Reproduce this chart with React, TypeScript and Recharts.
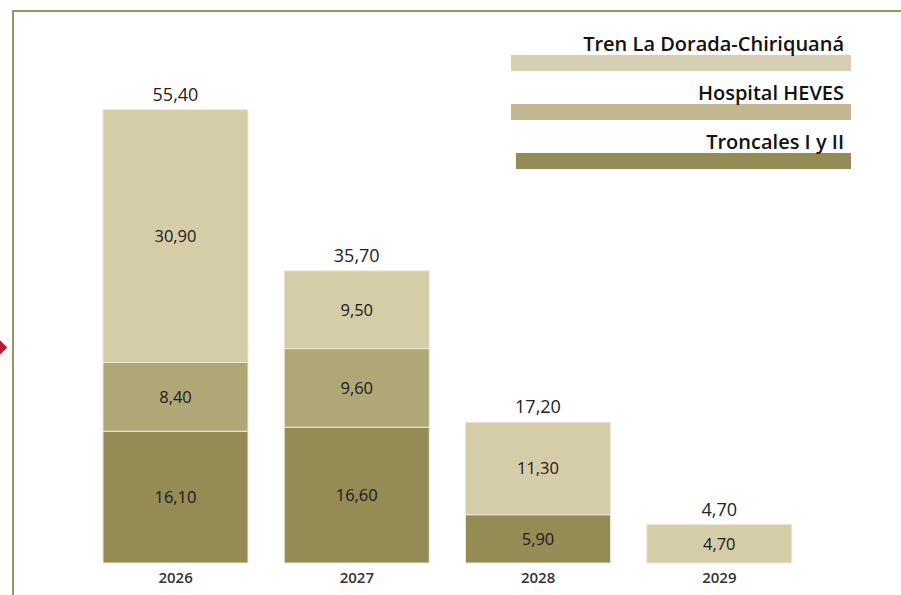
import React from "react";
import { BarChart, Bar, XAxis, YAxis, LabelList, Legend } from "recharts";

const years = ["2026", "2027", "2028", "2029"];
const troncales = [16.1, 16.6, 5.9, 0];
const hospital = [8.4, 9.6, 0, 0];
const tren = [30.9, 9.5, 11.3, 4.7];

const legendOrder = ["tren", "hospital", "troncales"];

const seriesColors = {
  tren: "#d4cda8",
  hospital: "#afa776",
  troncales: "#948b55",
};
const legendColors: Record<string, string> = {
  tren: "#d6cfb3",
  hospital: "#c0b78f",
  troncales: "#948b55",
};

const data = years.map((year, i) => ({
  year,
  troncales: troncales[i],
  hospital: hospital[i],
  tren: tren[i],
  total: troncales[i] + hospital[i] + tren[i],
}));

const fmt = (v: any) => {
  const n = Number(v);
  if (!n) return "";
  return n.toFixed(2).replace(".", ",");
};

const FONT = "'Open Sans', 'Noto Sans', sans-serif";

const LegendBox = ({ payload }: any) => {
  const items = legendOrder
    .map((k) => (payload || []).find((p: any) => p.dataKey === k))
    .filter(Boolean);
  return (
    <div style={{ width: 340, fontFamily: FONT }}>
      {items.map((item: any, i: number) => (
        <div key={item.dataKey} style={{ marginBottom: 11, marginLeft: i === 2 ? 5 : 0 }}>
          <div
            style={{
              textAlign: "right",
              paddingRight: 7,
              fontSize: 20,
              fontWeight: 600,
              lineHeight: "22px",
              color: "#111",
            }}
          >
            {item.value}
          </div>
          <div style={{ height: 16, background: legendColors[item.dataKey] }} />
        </div>
      ))}
    </div>
  );
};

const labelStyle = { fontSize: 16.5, fill: "#1a1a1a", fontFamily: FONT };

export default function App() {
  return (
    <div
      style={{
        position: "absolute",
        left: 0,
        top: 0,
        width: 901,
        height: 595,
        background: "#fff",
        overflow: "hidden",
      }}
    >
      <div
        style={{
          position: "absolute",
          left: 12,
          top: 10,
          width: 900,
          height: 600,
          borderTop: "2px solid #9c9365",
          borderLeft: "2px solid #9c9365",
        }}
      />
      <div
        style={{
          position: "absolute",
          left: -6,
          top: 342,
          width: 11,
          height: 11,
          background: "#c0182f",
          transform: "rotate(45deg)",
        }}
      />
      <div style={{ position: "absolute", left: 0, top: 0 }}>
        <BarChart
          width={901}
          height={595}
          data={data}
          margin={{ top: 72, right: 91, left: 85, bottom: 2 }}
          barSize={145}
        >
          <XAxis
            dataKey="year"
            height={30}
            axisLine={false}
            tickLine={false}
            tick={{ fontSize: 15, fontWeight: 600, fill: "#333", fontFamily: FONT }}
            tickMargin={3}
          />
          <YAxis hide domain={[0, 60]} />
          <Legend
            verticalAlign="middle"
            align="center"
            layout="horizontal"
            content={<LegendBox />}
            wrapperStyle={{ position: "absolute", top: 33, left: 511, width: 345 }}
          />
          <Bar
            dataKey="troncales"
            name="Troncales I y II"
            stackId="a"
            fill={seriesColors.troncales}
            stroke="#ece8d8"
            strokeWidth={1}
            isAnimationActive={false}
          >
            <LabelList dataKey="troncales" position="center" formatter={fmt} style={labelStyle} />
          </Bar>
          <Bar
            dataKey="hospital"
            name="Hospital HEVES"
            stackId="a"
            fill={seriesColors.hospital}
            stroke="#ece8d8"
            strokeWidth={1}
            isAnimationActive={false}
          >
            <LabelList dataKey="hospital" position="center" formatter={fmt} style={labelStyle} />
          </Bar>
          <Bar
            dataKey="tren"
            name="Tren La Dorada-Chiriquaná"
            stackId="a"
            fill={seriesColors.tren}
            stroke="#ece8d8"
            strokeWidth={1}
            isAnimationActive={false}
          >
            <LabelList dataKey="tren" position="center" formatter={fmt} style={labelStyle} />
            <LabelList
              dataKey="total"
              position="top"
              offset={9}
              formatter={fmt}
              style={{ fontSize: 18, fill: "#222", fontFamily: FONT }}
            />
          </Bar>
        </BarChart>
      </div>
    </div>
  );
}
